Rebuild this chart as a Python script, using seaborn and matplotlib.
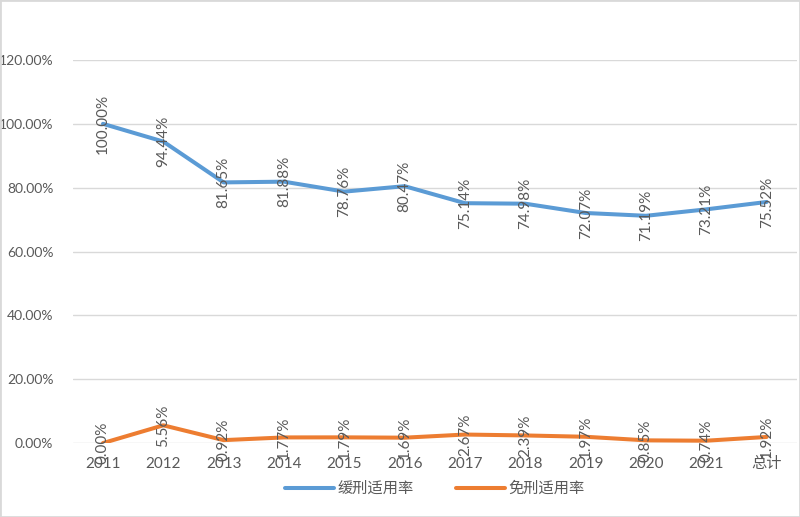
import pandas as pd
import matplotlib.pyplot as plt
import seaborn as sns

years = ["2011", "2012", "2013", "2014", "2015", "2016", "2017", "2018", "2019", "2020", "2021", "总计"]
huanxing = [100.00, 94.44, 81.65, 81.88, 78.76, 80.47, 75.14, 74.98, 72.07, 71.19, 73.21, 75.52]
mianxing = [0.00, 5.56, 0.92, 1.77, 1.79, 1.69, 2.67, 2.39, 1.97, 0.85, 0.74, 1.92]
series_names = ["缓刑适用率", "免刑适用率"]
colors = ["#5B9BD5", "#ED7D31"]

df = pd.concat([
    pd.DataFrame({"year": years, "rate": huanxing, "series": series_names[0]}),
    pd.DataFrame({"year": years, "rate": mianxing, "series": series_names[1]}),
])
df["pos"] = df["year"].map({y: i for i, y in enumerate(years)})

sns.set_style("white")
plt.rcParams["font.family"] = ["Lato", "Noto Sans CJK SC", "DejaVu Sans"]

fig = plt.figure(figsize=(8, 5.17), dpi=100)
ax = fig.add_axes([0.091, 0.143, 0.905, 0.741])

sns.lineplot(data=df, x="pos", y="rate", hue="series", palette=colors,
             linewidth=2.9, ax=ax, legend=True)

text_color = "#595959"
# data labels, rotated and centred on each point like the original
for vals in (huanxing, mianxing):
    for i, v in enumerate(vals):
        ax.text(i, v, f"{v:.2f}%", rotation=90, ha="center", va="center",
                fontsize=11, color=text_color)

ax.set_xlim(-0.5, len(years) - 0.5)
ax.set_ylim(0, 120)
ax.set_xticks(range(len(years)))
ax.set_xticklabels(years)
ax.set_yticks(range(0, 121, 20))
ax.set_yticklabels([f"{t:.2f}%" for t in range(0, 121, 20)])
ax.tick_params(axis="x", colors=text_color, labelsize=11, length=0, pad=10)
ax.tick_params(axis="y", colors=text_color, labelsize=10, length=0, pad=14)
ax.yaxis.grid(True, color="#D9D9D9", linewidth=1)
for s in ax.spines.values():
    s.set_visible(False)
ax.set_xlabel("")
ax.set_ylabel("")

handles, labels = ax.get_legend_handles_labels()
ax.legend(handles, labels, loc="upper center", bbox_to_anchor=(0.5, -0.065), ncol=2,
          frameon=False, fontsize=11, labelcolor=text_color, handlelength=3.2,
          columnspacing=2.8, handletextpad=0.2)

# light frame around the chart area
fig.patches.append(plt.Rectangle((0, 0), 1, 1, transform=fig.transFigure,
                                 fill=False, edgecolor="#D9D9D9", linewidth=2))

fig.savefig("out.png", dpi=100)
